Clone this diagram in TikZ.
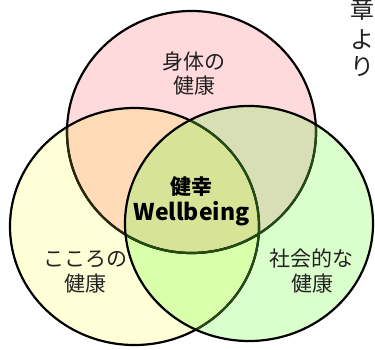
\documentclass[tikz,border=0pt]{standalone}
\usepackage{fontspec}
\setmainfont{Noto Sans CJK JP}
\definecolor{cpink}{RGB}{255,218,221}
\definecolor{cyel}{RGB}{255,255,215}
\definecolor{cgreen}{RGB}{218,255,205}
\definecolor{cpy}{RGB}{255,219,184}
\definecolor{cpg}{RGB}{216,223,180}
\definecolor{cyg}{RGB}{216,255,170}
\definecolor{cpyg}{RGB}{215,228,152}
\definecolor{lineol}{RGB}{40,40,10}
\definecolor{linegr}{RGB}{35,75,20}
\definecolor{txt}{RGB}{34,34,34}
\begin{document}
\begin{tikzpicture}[x=1pt,y=-1pt,
  ring/.style={line width=2.2pt},
  lbl/.style={font=\fontsize{21}{25}\selectfont, text=txt, inner sep=0pt, align=center},
  ctr/.style={font=\bfseries\fontsize{21}{25}\selectfont, text=black, inner sep=0pt},
  vtxt/.style={font=\fontsize{24}{28}\selectfont, text=txt, inner sep=0pt}]
\def\ptop{(191.5,132) ellipse [x radius=124.5pt, y radius=121pt]}
\def\pleft{(134.5,226.5) ellipse [x radius=124.5pt, y radius=118.5pt]}
\def\pright{(249,223.5) ellipse [x radius=124pt, y radius=117.5pt]}
\fill[white] (0,0) rectangle (375,349);
\useasboundingbox (0,0) rectangle (375,349);
% fills
\fill[cpink] \ptop;
\fill[cyel] \pleft;
\fill[cgreen] \pright;
\begin{scope}
  \clip \ptop;
  \fill[cpy] \pleft;
  \fill[cpg] \pright;
\end{scope}
\begin{scope}
  \clip \pleft;
  \fill[cyg] \pright;
\end{scope}
\begin{scope}
  \clip \ptop; \clip \pleft;
  \fill[cpyg] \pright;
\end{scope}
% strokes
\draw[ring, black] \ptop;
\begin{scope}
  \clip \pleft;
  \draw[ring, lineol] \ptop;
\end{scope}
\draw[ring, black] \pleft;
\begin{scope}
  \clip \pright;
  \draw[ring, linegr] \ptop;
  \draw[ring, linegr] \pleft;
\end{scope}
\draw[ring, black] \pright;
% labels
\node[lbl] (body1) at (194,61) {身体の};
\node[lbl] (body2) at (194,86) {健康};
\node[lbl] (mind1) at (85,259) {こころの};
\node[lbl] (mind2) at (85,284) {健康};
\node[lbl] (soc1) at (311,259) {社会的な};
\node[lbl] (soc2) at (312,284) {健康};
\node[ctr] (wb1) at (191.5,187) {健幸};
\node[ctr, font=\bfseries\fontsize{23}{25}\selectfont] (wb2) at (191.5,214) {Wellbeing};
% vertical text at top right
\node[vtxt] (v1) at (362.5,9) {章};
\node[vtxt] (v2) at (362.5,40) {よ};
\node[vtxt] (v3) at (362.5,67) {り};
\end{tikzpicture}
\end{document}
